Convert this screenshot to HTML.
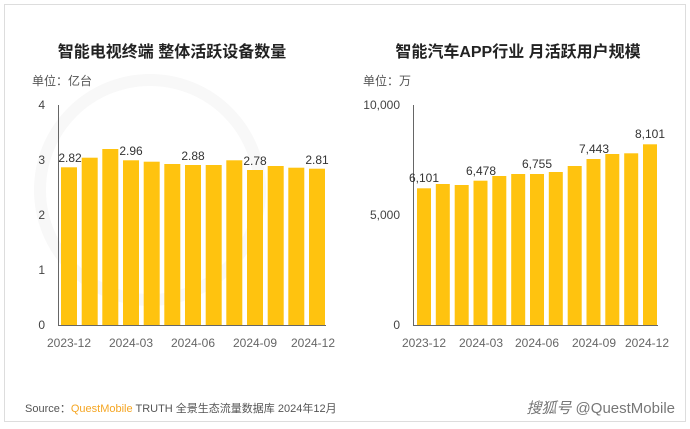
<!DOCTYPE html>
<html><head><meta charset="utf-8"><style>
body{margin:0;background:#fff}
svg text{font-family:"Liberation Sans","Noto Sans CJK SC",sans-serif}
</style></head><body>
<svg width="690" height="424" viewBox="0 0 690 424" xmlns="http://www.w3.org/2000/svg">
<rect x="0" y="0" width="690" height="424" fill="#fff"/>
<rect x="4.5" y="4.5" width="681" height="417" fill="none" stroke="#ddd" stroke-width="1"/>
<circle cx="150" cy="190" r="110" fill="none" stroke="#f8f8f8" stroke-width="12"/>
<text x="172" y="57" font-size="16" font-weight="bold" text-anchor="middle" fill="#222">智能电视终端 整体活跃设备数量</text>
<text x="518" y="57" font-size="16" font-weight="bold" text-anchor="middle" fill="#222">智能汽车APP行业 月活跃用户规模</text>
<text x="32" y="85" font-size="12" fill="#555">单位：亿台</text>
<text x="363" y="85" font-size="12" fill="#555">单位：万</text>
<g font-size="12" fill="#444" text-anchor="end">
<text x="45" y="109">4</text><text x="45" y="164">3</text><text x="45" y="219">2</text><text x="45" y="274">1</text><text x="45" y="329">0</text>
<text x="400" y="109">10,000</text><text x="400" y="219">5,000</text><text x="400" y="329">0</text>
</g>
<g fill="#FFC30F">
<rect x="61" y="167.3" width="16" height="157.7"/>
<rect x="81.7" y="157.7" width="16" height="167.3"/>
<rect x="102.3" y="149" width="16" height="176"/>
<rect x="123" y="160.3" width="16" height="164.7"/>
<rect x="143.7" y="161.7" width="16" height="163.3"/>
<rect x="164.3" y="164" width="16" height="161"/>
<rect x="185" y="165" width="16" height="160"/>
<rect x="205.7" y="165" width="16" height="160"/>
<rect x="226.3" y="160.3" width="16" height="164.7"/>
<rect x="247" y="170" width="16" height="155"/>
<rect x="267.7" y="166" width="16" height="159"/>
<rect x="288.3" y="167.7" width="16" height="157.3"/>
<rect x="309" y="168.7" width="16" height="156.3"/>
</g>
<g fill="#FFC30F">
<rect x="417" y="188.3" width="14" height="136.7"/>
<rect x="435.8" y="184" width="14" height="141"/>
<rect x="454.7" y="185" width="14" height="140"/>
<rect x="473.5" y="180.7" width="14" height="144.3"/>
<rect x="492.3" y="176" width="14" height="149"/>
<rect x="511.2" y="174" width="14" height="151"/>
<rect x="530" y="174" width="14" height="151"/>
<rect x="548.8" y="172" width="14" height="153"/>
<rect x="567.7" y="166" width="14" height="159"/>
<rect x="586.5" y="159" width="14" height="166"/>
<rect x="605.3" y="154" width="14" height="171"/>
<rect x="624.2" y="153.3" width="14" height="171.7"/>
<rect x="643" y="144.3" width="14" height="180.7"/>
</g>
<g stroke="#666" stroke-width="1">
<line x1="58.5" y1="105" x2="58.5" y2="325"/><line x1="58" y1="325.5" x2="326" y2="325.5"/>
<line x1="413.5" y1="105" x2="413.5" y2="325"/><line x1="413" y1="325.5" x2="658" y2="325.5"/>
</g>
<g font-size="12" fill="#333" text-anchor="middle">
<text x="70" y="162">2.82</text><text x="131" y="155">2.96</text><text x="193" y="160">2.88</text><text x="255" y="165">2.78</text><text x="317" y="164">2.81</text>
<text x="424" y="182">6,101</text><text x="481" y="175">6,478</text><text x="537" y="168">6,755</text><text x="594" y="153">7,443</text><text x="650" y="138">8,101</text>
</g>
<g font-size="12" fill="#666" text-anchor="middle">
<text x="69" y="347">2023-12</text><text x="131" y="347">2024-03</text><text x="193" y="347">2024-06</text><text x="255" y="347">2024-09</text><text x="313" y="347">2024-12</text>
<text x="424" y="347">2023-12</text><text x="481" y="347">2024-03</text><text x="537" y="347">2024-06</text><text x="594" y="347">2024-09</text><text x="647" y="347">2024-12</text>
</g>
<text x="25" y="412" font-size="11" fill="#555">Source：<tspan fill="#F5A623">QuestMobile</tspan> TRUTH 全景生态流量数据库 2024年12月</text>
<text x="675" y="413" font-size="15" fill="#777" text-anchor="end"><tspan font-style="italic">搜狐号</tspan> @QuestMobile</text>
</svg>
</body></html>
